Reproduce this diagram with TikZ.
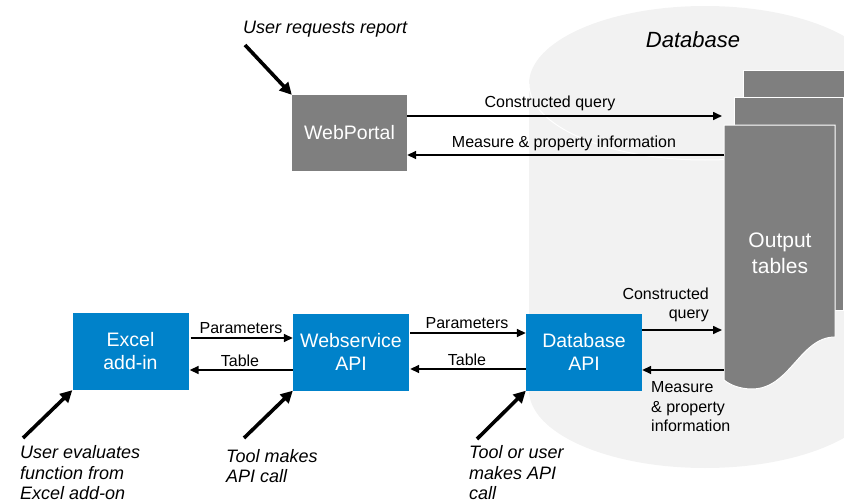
\documentclass[tikz,border=0pt]{standalone}
\usepackage{fontspec}
\setmainfont{Liberation Sans}
\usetikzlibrary{arrows.meta,calc}
\definecolor{boxblue}{RGB}{0,130,202}
\definecolor{tablegrey}{RGB}{127,127,127}
\definecolor{cylgrey}{RGB}{242,242,242}
\begin{document}
\begin{tikzpicture}[x=1pt,y=-1pt,
  bluebox/.style={fill=boxblue, text=white, minimum width=116pt, minimum height=77pt, inner sep=0pt, align=center, font=\fontsize{19.5}{23}\selectfont},
  greybox/.style={fill=tablegrey, text=white, minimum width=115pt, minimum height=76pt, inner sep=0pt, align=center, font=\fontsize{19.5}{23}\selectfont},
  tablesheet/.style={fill=tablegrey, draw=white, line width=1pt},
  flowarrow/.style={-{Triangle[length=9pt,width=8pt]}, line width=1.6pt},
  userarrow/.style={-{Triangle[length=12pt,width=12pt]}, line width=3.6pt},
  lbl/.style={font=\fontsize{16}{19.5}\selectfont, inner sep=0pt},
  note/.style={font=\fontsize{18}{20.5}\selectfont\itshape, inner sep=0pt, align=left}
]
\useasboundingbox (0,0) rectangle (844,503);
\clip (0,0) rectangle (844,503);
% database cylinder
\fill[cylgrey] (529,84) -- (529,390) arc[start angle=180, end angle=0, x radius=176, y radius=78]
  -- (881,84) arc[start angle=0, end angle=-180, x radius=176, y radius=78] -- cycle;
\draw[white, line width=1pt] (529,84) arc[start angle=180, end angle=0, x radius=176, y radius=76];
\node[font=\fontsize{22}{26}\selectfont\itshape, inner sep=0pt] (dbtitle) at (693,40) {Database};
% output tables
\draw[tablesheet] (743,71) rectangle (852,310);
\draw[tablesheet] (734,98) rectangle (843,310);
\draw[tablesheet] (724,125) -- (835,125) -- (835,337)
  .. controls (800,337) and (790,389) .. (752,389)
  .. controls (740,389) and (730,385) .. (724,380) -- cycle;
\node[text=white, font=\fontsize{21}{26}\selectfont, align=center, inner sep=0pt] (outtab) at (780,253) {Output\\tables};
% boxes
\node[greybox] (webportal) at (349.5,133) {WebPortal};
\node[bluebox] (excel) at (130.5,351.5) {Excel\\add-in};
\node[bluebox] (websvc) at (351,352) {Webservice\\API};
\node[bluebox] (dbapi) at (584,352) {Database\\API};
% coordinates at the tables
\coordinate (cqtop) at (722,116);
\coordinate (mptop) at (724,155);
\coordinate (cqbot) at (722,330);
\coordinate (mpbot) at (724,370);
\coordinate (pa1) at (0,338);
\coordinate (ta1) at (0,370);
\coordinate (pa2) at (0,333);
\coordinate (ta2) at (0,369);
% top arrows
\draw[flowarrow] (webportal.east |- cqtop) -- (cqtop);
\draw[flowarrow] (mptop) -- (webportal.east |- mptop);
\node[lbl] (lcq) at (550,103) {Constructed query};
\node[lbl] (lmp) at (564,143) {Measure \& property information};
% bottom arrows
\draw[flowarrow] ($(excel.east |- pa1)+(2,0)$) -- (websvc.west |- pa1);
\draw[flowarrow] (websvc.west |- ta1) -- ($(excel.east |- ta1)+(1,0)$);
\node[lbl] (lpa1) at (241,328) {Parameters};
\node[lbl] (lta1) at (240,361) {Table};
\draw[flowarrow] ($(websvc.east |- pa2)+(1,0)$) -- (dbapi.west |- pa2);
\draw[flowarrow] (dbapi.west |- ta2) -- ($(websvc.east |- ta2)+(1,0)$);
\node[lbl] (lpa2) at (467,323) {Parameters};
\node[lbl] (lta2) at (467,360) {Table};
\draw[flowarrow] (dbapi.east |- cqbot) -- (cqbot);
\draw[flowarrow] (mpbot) -- (dbapi.east |- mpbot);
\node[lbl, align=right, anchor=east] (lcq2) at (709,305) {Constructed\\query};
\node[lbl, align=left, anchor=west] (lmp2) at (651,407) {Measure\\\& property\\information};
% user annotations
\node[note, anchor=west] (n1) at (243,29) {User requests report};
\coordinate (u1) at (245,45);
\draw[userarrow] (u1) -- (webportal.north west);
\node[note, anchor=west] (n2) at (20,473) {User evaluates\\function from\\Excel add-on};
\coordinate (u2) at (23,438);
\draw[userarrow] (u2) -- (excel.south west);
\node[note, anchor=west] (n3) at (226,466) {Tool makes\\API call};
\coordinate (u3) at (244,438);
\draw[userarrow] (u3) -- (websvc.south west);
\node[note, anchor=west] (n4) at (469,473) {Tool or user\\makes API\\call};
\coordinate (u4) at (477,439);
\draw[userarrow] (u4) -- (dbapi.south west);
\end{tikzpicture}
\end{document}
